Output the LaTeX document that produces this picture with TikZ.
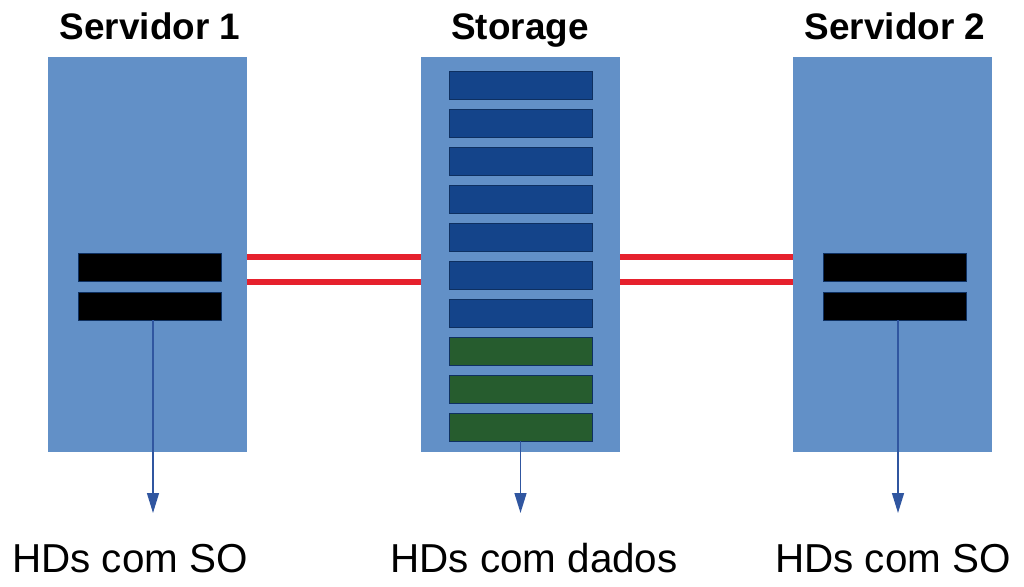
\documentclass[tikz,border=0pt]{standalone}
\usepackage{fontspec}
\setmainfont{Liberation Sans}
\usepackage{tikz}
\usetikzlibrary{arrows.meta}
\usepackage{xcolor}
\definecolor{rackblue}{RGB}{98,144,199}
\definecolor{diskblue}{RGB}{20,68,138}
\definecolor{diskgreen}{RGB}{38,92,46}
\definecolor{linkred}{RGB}{230,33,45}
\definecolor{arrowblue}{RGB}{48,86,160}
\tikzset{
    rack/.style={fill=rackblue, inner sep=0, minimum width=3.98cm, minimum height=7.9cm},
    disk/.style={draw=diskblue!70!black, line width=0.4pt, inner sep=0, minimum width=2.86cm, minimum height=0.56cm},
    link/.style={linkred, line width=3.4pt},
    hd/.style={arrowblue, line width=0.8pt, -{Triangle[length=4mm,width=2.4mm]}},
    title/.style={font=\fontsize{21}{25}\selectfont\bfseries, anchor=base},
    caption/.style={font=\fontsize{23}{27}\selectfont, anchor=base}
}
\begin{document}
\begin{tikzpicture}[x=0.02cm, y=-0.02cm]
                \useasboundingbox (0,0) rectangle (1024,587);
                % racks
                \node[rack] (srv1) at (147.5,254.5) {};
                \node[rack] (stor) at (520.5,254.5) {};
                \node[rack] (srv2) at (892.5,254.5) {};
                \node[title] at (150,40) {Servidor 1};
                \node[title] at (520,40) {Storage};
                \node[title] at (895,40) {Servidor 2};
                % disks of the servers
                \node[disk, fill=black] (d1a) at (149.5,267) {};
                \node[disk, fill=black] (d1b) at (149.5,306) {};
                \node[disk, fill=black] (d2a) at (894.5,267) {};
                \node[disk, fill=black] (d2b) at (894.5,306) {};
                % disks of the storage
                \foreach \k in {0,...,6} {
                        \node[disk, fill=diskblue] (s\k) at (520.5,85+38*\k) {};
                    }
                \foreach \k in {7,8,9} {
                        \node[disk, fill=diskgreen] (s\k) at (520.5,85+38*\k) {};
                    }
                % links
                \draw[link] (srv1.east |- 0,257) -- (stor.west |- 0,257);
                \draw[link] (srv1.east |- 0,282) -- (stor.west |- 0,282);
                \draw[link] (stor.east |- 0,257) -- (srv2.west |- 0,257);
                \draw[link] (stor.east |- 0,282) -- (srv2.west |- 0,282);
                % arrows to the captions
                \coordinate (a1) at (153,513);
                \coordinate (a2) at (520.5,513);
                \coordinate (a3) at (898,513);
                \draw[hd] (d1b.south -| a1) -- (a1);
                \draw[hd] (s9.south) -- (a2);
                \draw[hd] (d2b.south -| a3) -- (a3);
                \node[caption] (c1) at (130,572) {HDs com SO};
                \node[caption] (c2) at (534,572) {HDs com dados};
                \node[caption] (c3) at (893,572) {HDs com SO};
            \end{tikzpicture}
\end{document}
